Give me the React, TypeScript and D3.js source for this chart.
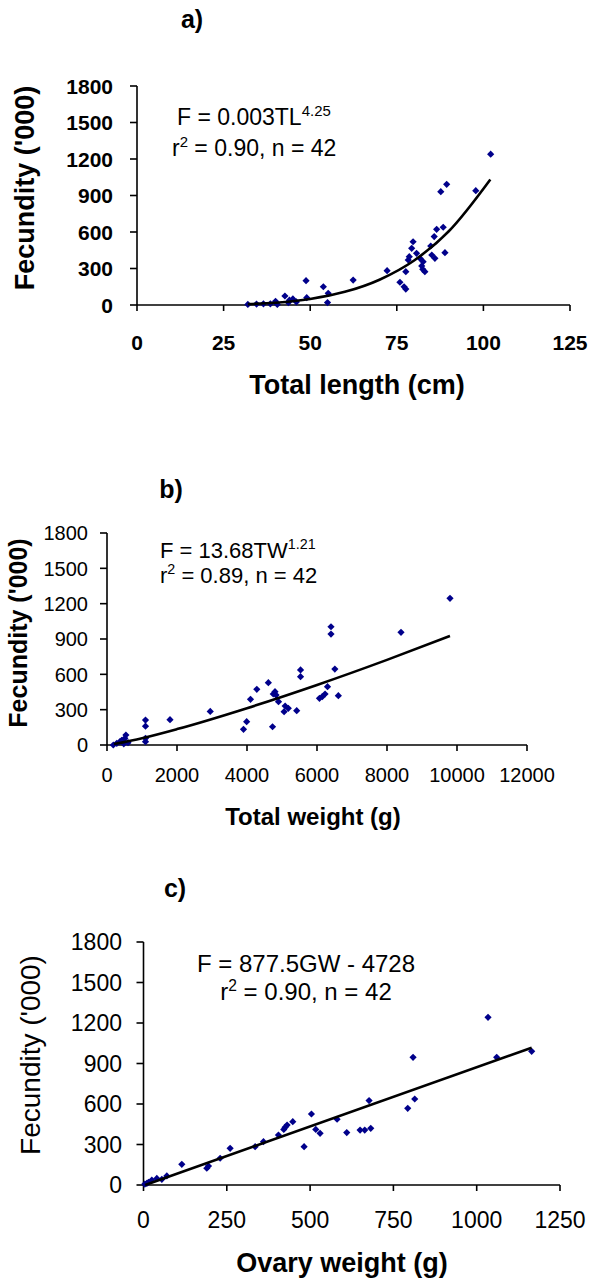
import React from 'react';
import * as d3 from 'd3';

const FONT = '"Liberation Sans", Arial, Helvetica, sans-serif';

// a) total length (cm) vs fecundity ('000)
const tlLength = [32, 34.5, 36.5, 38.5, 40, 40.5, 42.7, 43.7, 44, 45, 46, 48.8, 49, 53.8, 55, 55.2, 62.4, 72.2, 75.9, 77.1,
  77.6, 77.6, 78.3, 78.6, 79.3, 79.7, 80.7, 81.7, 82.2, 82.5, 82.6, 83.1, 84.8, 85.1, 85.8, 86, 86.5, 87.7, 88.4, 88.9,
  89.4, 97.8, 102.1];
const tlFecundity = [5, 8, 10, 10, 30, 5, 74, 20, 40, 50, 25, 200, 60, 150, 20, 96, 205, 282, 187, 150,
  131, 274, 370, 397, 466, 520, 425, 384, 321, 293, 356, 274, 485, 411, 562, 384, 622, 931, 639, 430,
  992, 940, 1240];
const tlFitLength = [32, 40, 50, 60, 70, 80, 90, 102];
const tlFitFecundity = [7.5, 19, 50, 108, 208, 366, 606, 1032];
const tlTicks = [0, 25, 50, 75, 100, 125];

// b) total weight (g) vs fecundity ('000)
const twWeight = [180, 280, 370, 420, 510, 540, 600, 480, 1100, 1100, 1100, 1100, 1800, 2950, 3900, 3990, 4100, 4280,
  4610, 4730, 4750, 4800, 4830, 4900, 5060, 5090, 5180, 5420, 5530, 5530, 6070, 6150, 6230, 6300, 6400, 6400,
  6510, 6610, 8400, 9800];
const twFecundity = [0, 14, 28, 40, 57, 85, 20, 10, 212, 160, 57, 28, 215, 285, 133, 198, 388, 473,
  529, 155, 433, 453, 424, 368, 283, 331, 311, 291, 637, 580, 396, 410, 433, 495, 1004, 942,
  645, 419, 957, 1245];
const twFitWeight = [200, 1000, 2000, 4000, 6000, 8000, 9800];
const twFitFecundity = [8, 58, 135, 313, 510, 723, 926];
const twTicks = [0, 2000, 4000, 6000, 8000, 10000, 12000];

// c) ovary weight (g) vs fecundity ('000)
const gwWeight = [4, 10, 25, 40, 55, 70, 15, 115, 190, 195, 230, 260, 335, 360, 405, 421, 425, 431, 448, 482,
  504, 517, 530, 581, 610, 650, 664, 677, 682, 793, 809, 814, 1034, 1060, 1165];
const gwFecundity = [7, 12, 37, 49, 42, 67, 20, 153, 124, 140, 198, 272, 284, 321, 370, 412, 427, 444, 469, 284,
  526, 412, 383, 487, 388, 407, 407, 625, 420, 568, 946, 637, 1242, 946, 990];
const gwFitWeight = [5, 1165];
const gwFitFecundity = [0, 1017];
const gwTicks = [0, 250, 500, 750, 1000, 1250];

const fecTicks = [0, 300, 600, 900, 1200, 1500, 1800];

type PanelProps = {
  xs: number[]; ys: number[]; fitX: number[]; fitY: number[];
  xMax: number; xTicks: number[];
  left: number; right: number; top: number; bottom: number;
  tickSize: number; tickWeight: string; yTickRight: number; xTickBase: number;
  title: string; titleX: number; titleY: number;
  yLabelX: number; yLabelY: number; yLabelSize: number; yLabelWeight: string;
  xLabel: string; xLabelX: number; xLabelY: number; xLabelSize: number;
  eq: React.ReactNode;
};

function Panel(p: PanelProps) {
  const x = d3.scaleLinear().domain([0, p.xMax]).range([p.left, p.right]);
  const y = d3.scaleLinear().domain([0, 1800]).range([p.bottom, p.top]);
  const fit = d3.line<number>()
    .x((d, i) => x(p.fitX[i]))
    .y(d => y(d))
    .curve(d3.curveMonotoneX);
  const marker = d3.symbol(d3.symbolSquare, 26)() as string;
  return (
    <g fontFamily={FONT} fill="#000">
      <text x={p.titleX} y={p.titleY} fontSize={25} fontWeight="bold" textAnchor="middle">{p.title}</text>
      {/* axes */}
      <line x1={p.left} x2={p.right} y1={p.bottom} y2={p.bottom} stroke="#000" strokeWidth={1.6} />
      <line x1={p.left} x2={p.left} y1={p.bottom} y2={p.top} stroke="#000" strokeWidth={1.6} />
      {fecTicks.map(t => (
        <g key={'y' + t}>
          <line x1={p.left - 7} x2={p.left} y1={y(t)} y2={y(t)} stroke="#000" strokeWidth={1.6} />
          <text x={p.yTickRight} y={y(t)} dy="0.36em" textAnchor="end" fontSize={p.tickSize} fontWeight={p.tickWeight}>{t}</text>
        </g>
      ))}
      {p.xTicks.map(t => (
        <g key={'x' + t}>
          <line x1={x(t)} x2={x(t)} y1={p.bottom} y2={p.bottom + 6} stroke="#000" strokeWidth={1.6} />
          <text x={x(t)} y={p.xTickBase} textAnchor="middle" fontSize={p.tickSize} fontWeight={p.tickWeight}>{t}</text>
        </g>
      ))}
      <text transform={`translate(${p.yLabelX},${p.yLabelY}) rotate(-90)`} textAnchor="middle" dy="0.35em"
        fontSize={p.yLabelSize} fontWeight={p.yLabelWeight}>Fecundity ('000)</text>
      <text x={p.xLabelX} y={p.xLabelY} textAnchor="middle" fontSize={p.xLabelSize} fontWeight="bold">{p.xLabel}</text>
      {/* points */}
      {p.xs.map((v, i) => (
        <path key={'p' + i} d={marker} fill="#00008b"
          transform={`translate(${x(v)},${y(p.ys[i])}) rotate(45)`} />
      ))}
      <path d={fit(p.fitY) || ''} fill="none" stroke="#000" strokeWidth={2.6} />
      {p.eq}
    </g>
  );
}

const sup = (s: string) => <tspan fontSize="0.65em" dy="-0.6em">{s}</tspan>;
const back = (s: string) => <tspan dy="0.39em">{s}</tspan>;

export default function App() {
  return (
    <svg width={592} height={1282} style={{ position: 'absolute', left: 0, top: 0, background: '#fff' }}>
      <Panel xs={tlLength} ys={tlFecundity} fitX={tlFitLength} fitY={tlFitFecundity}
        xMax={125} xTicks={tlTicks} left={137} right={570} top={86} bottom={305}
        tickSize={21} tickWeight="bold" yTickRight={113} xTickBase={350}
        title="a)" titleX={192} titleY={28}
        yLabelX={25} yLabelY={188} yLabelSize={27} yLabelWeight="bold"
        xLabel="Total length (cm)" xLabelX={357} xLabelY={394} xLabelSize={27}
        eq={<g fontSize={23}>
          <text x={177} y={125}>F = 0.003TL{sup('4.25')}</text>
          <text x={172} y={156}>r{sup('2')}{back(' = 0.90,  n = 42')}</text>
        </g>} />
      <Panel xs={twWeight} ys={twFecundity} fitX={twFitWeight} fitY={twFitFecundity}
        xMax={12000} xTicks={twTicks} left={107} right={527} top={533} bottom={745}
        tickSize={20} tickWeight="normal" yTickRight={88} xTickBase={782}
        title="b)" titleX={171} titleY={498}
        yLabelX={18} yLabelY={633} yLabelSize={25} yLabelWeight="bold"
        xLabel="Total weight (g)" xLabelX={313} xLabelY={825} xLabelSize={24}
        eq={<g fontSize={22}>
          <text x={160} y={558}>F = 13.68TW{sup('1.21')}</text>
          <text x={160} y={583}>r{sup('2')}{back(' = 0.89, n = 42')}</text>
        </g>} />
      <Panel xs={gwWeight} ys={gwFecundity} fitX={gwFitWeight} fitY={gwFitFecundity}
        xMax={1250} xTicks={gwTicks} left={143.5} right={560} top={942} bottom={1185}
        tickSize={23} tickWeight="normal" yTickRight={122} xTickBase={1228}
        title="c)" titleX={175} titleY={897}
        yLabelX={30} yLabelY={1055} yLabelSize={28} yLabelWeight="normal"
        xLabel="Ovary weight (g)" xLabelX={342} xLabelY={1272} xLabelSize={27}
        eq={<g fontSize={24} textAnchor="middle">
          <text x={306} y={972}>F = 877.5GW - 4728</text>
          <text x={306} y={1000}>r{sup('2')}{back(' = 0.90, n = 42')}</text>
        </g>} />
    </svg>
  );
}
